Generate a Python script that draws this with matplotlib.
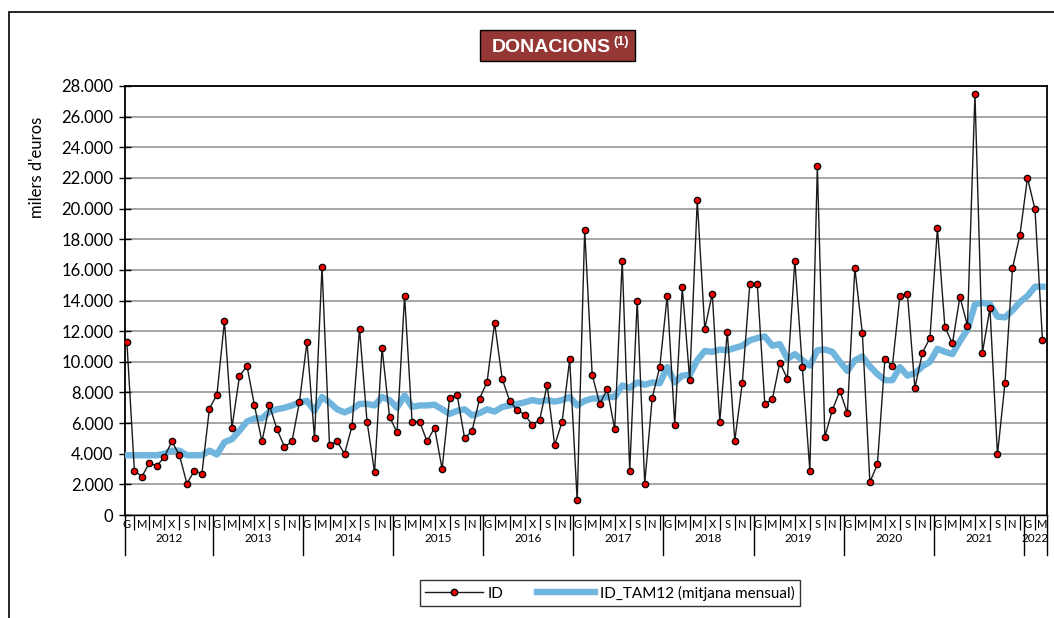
import matplotlib
matplotlib.use("Agg")
import matplotlib.pyplot as plt
from matplotlib.patches import Rectangle
from matplotlib.lines import Line2D

# monthly values, Jan 2012 .. Mar 2022 (thousands of euros)
id_values = [
    11.3, 2.9, 2.5, 3.4, 3.2, 3.8, 4.8, 3.9, 2.05, 2.9, 2.7, 6.95,
    7.85, 12.65, 5.7, 9.05, 9.75, 7.15, 4.8, 7.15, 5.6, 4.45, 4.8, 7.4,
    11.3, 5.0, 16.2, 4.55, 4.8, 4.0, 5.8, 12.15, 6.1, 2.8, 10.9, 6.4,
    5.4, 14.3, 6.1, 6.1, 4.8, 5.7, 3.0, 7.65, 7.85, 5.0, 5.5, 7.6,
    8.7, 12.55, 8.9, 7.45, 6.85, 6.55, 5.9, 6.2, 8.5, 4.55, 6.1, 10.15,
    0.95, 18.6, 9.15, 7.25, 8.2, 5.6, 16.6, 2.9, 14.0, 2.05, 7.65, 9.65,
    14.3, 5.9, 14.85, 8.8, 20.55, 12.15, 14.45, 6.1, 11.95, 4.85, 8.6, 15.05,
    15.05, 7.25, 7.55, 9.95, 8.9, 16.6, 9.65, 2.9, 22.75, 5.1, 6.85, 8.1,
    6.65, 16.1, 11.85, 2.15, 3.3, 10.15, 9.75, 14.3, 14.45, 8.3, 10.6, 11.55,
    18.7, 12.25, 11.2, 14.25, 12.35, 27.5, 10.6, 13.5, 3.95, 8.6, 16.1, 18.3,
    22.0, 19.95, 11.4,
]
tam_values = [
    3.9, 3.9, 3.9, 3.9, 3.9, 4.0, 4.2, 4.2, 3.9, 3.9, 3.9, 4.2,
    3.95, 4.75, 4.95, 5.5, 6.1, 6.3, 6.3, 6.75, 6.9, 7.0, 7.15, 7.35,
    7.45, 6.8, 7.7, 7.35, 6.9, 6.7, 6.9, 7.25, 7.25, 7.15, 7.7, 7.5,
    7.0, 7.8, 7.05, 7.15, 7.15, 7.2, 6.9, 6.6, 6.8, 6.9, 6.5, 6.65,
    6.9, 6.75, 7.05, 7.15, 7.25, 7.35, 7.5, 7.4, 7.5, 7.4, 7.5, 7.7,
    7.15, 7.45, 7.6, 7.6, 7.7, 7.7, 8.45, 8.3, 8.65, 8.5, 8.65, 8.6,
    9.65, 8.65, 9.1, 9.15, 10.1, 10.7, 10.65, 10.8, 10.75, 10.9, 11.05, 11.4,
    11.55, 11.65, 11.05, 11.15, 10.2, 10.5, 10.1, 9.75, 10.75, 10.8, 10.65, 10.0,
    9.4, 10.1, 10.35, 9.7, 9.2, 8.8, 8.8, 9.65, 9.1, 9.25, 9.7, 10.0,
    10.85, 10.65, 10.5, 11.35, 12.1, 13.75, 13.85, 13.75, 12.95, 12.9, 13.35, 13.9,
    14.3, 14.9, 14.9,
]
month_letters = ["G", "M", "M", "X", "S", "N"]
years = ["2012", "2013", "2014", "2015", "2016", "2017", "2018",
         "2019", "2020", "2021", "2022"]

plt.rcParams["font.family"] = ["Lato", "DejaVu Sans"]

W, H = 1054, 618
fig = plt.figure(figsize=(W / 100, H / 100), dpi=100)

# outer chart frame
fig.patches.append(Rectangle((9 / W, -0.1), 1.2, 1 - 12 / H + 0.1,
                             transform=fig.transFigure, fill=False,
                             edgecolor="black", lw=1.2))

ax = fig.add_axes([125 / W, 1 - 515 / H, (1047 - 125) / W, (515 - 86) / H])
n = len(id_values)
x = list(range(n))
yv = [v * 1000 for v in id_values]
yt = [v * 1000 for v in tam_values]

ax.plot(x, yt, color="#6fb5dd", lw=4.6, solid_joinstyle="round", zorder=3)
ax.plot(x, yv, color="#1a1a1a", lw=1.0, marker="o", ms=4.6,
        markerfacecolor="#ee0000", markeredgecolor="black",
        markeredgewidth=0.9, zorder=4)

ax.set_xlim(-0.25, 122.6)
ax.set_ylim(0, 28000)
ax.set_yticks(range(0, 28001, 2000))
ax.set_yticklabels([f"{v:,}".replace(",", ".") for v in range(0, 28001, 2000)],
                   fontsize=12)
ax.grid(axis="y", color="#a6a6a6", lw=1.4)
ax.set_axisbelow(True)
for s in ax.spines.values():
    s.set_color("black")
    s.set_linewidth(1.3)
ax.spines["bottom"].set_linewidth(1.0)
ax.tick_params(axis="y", direction="inout", length=9, width=1.0, pad=4)

# month labels every other month, separators on the other months
ax.set_xticks(range(0, n, 2))
ax.set_xticklabels([month_letters[(i % 12) // 2] for i in range(0, n, 2)],
                   fontsize=8)
ax.set_xticks(range(1, n, 2), minor=True)
ax.tick_params(axis="x", which="major", length=0, pad=3)
ax.tick_params(axis="x", which="minor", length=11, width=0.9, direction="out")

# year separators and labels
tr = ax.get_xaxis_transform()
bounds = [-0.25] + [12 * k - 0.5 for k in range(1, len(years))] + [122.6]
for b in bounds:
    ax.plot([b, b], [0, -40 / 429], color="black", lw=1.0,
            transform=tr, clip_on=False)
for k, yr in enumerate(years):
    ax.text((bounds[k] + bounds[k + 1]) / 2, -24 / 429, yr, transform=tr,
            ha="center", va="center", fontsize=8.5)

fig.text(37 / W, 1 - 167 / H, "milers d'euros", rotation=90,
         ha="center", va="center", fontsize=12)

# title box
fig.patches.append(Rectangle((480 / W, 1 - 61 / H), 155 / W, 31 / H,
                             transform=fig.transFigure, facecolor="#953735",
                             edgecolor="black", lw=1.0))
fig.text(551 / W, 1 - 47 / H, "DONACIONS", color="white", fontsize=14,
         fontweight="bold", ha="center", va="center",
         family=["Liberation Sans Narrow", "Liberation Sans"])
fig.text(613 / W, 1 - 42 / H, "(1)", color="white", fontsize=9,
         fontweight="bold", ha="left", va="center",
         family=["Liberation Sans Narrow", "Liberation Sans"])

handles = [
    Line2D([], [], color="#1a1a1a", lw=1.0, marker="o", ms=4.6,
           markerfacecolor="#ee0000", markeredgecolor="black"),
    Line2D([], [], color="#6fb5dd", lw=4.6),
]
leg = fig.legend(handles, ["ID", "ID_TAM12 (mitjana mensual)"],
                 loc="center", bbox_to_anchor=(610 / W, 1 - 593 / H),
                 ncol=2, fontsize=11, frameon=True, fancybox=False,
                 edgecolor="black", handlelength=3.8, columnspacing=2.2,
                 borderpad=0.35, handletextpad=0.3)
leg.get_frame().set_linewidth(1.0)

fig.savefig("out.png", dpi=100)
